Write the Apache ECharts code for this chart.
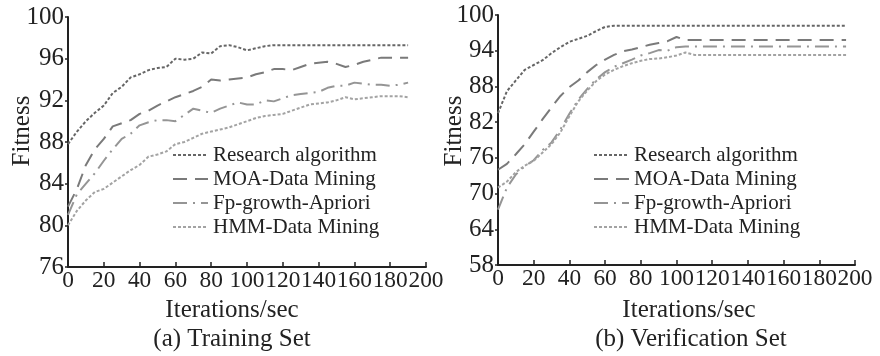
<!DOCTYPE html>
<html><head><meta charset="utf-8">
<script src="https://cdn.jsdelivr.net/npm/echarts@6/dist/echarts.min.js"></script>
<style>html,body{margin:0;padding:0;background:#fff}#c{width:880px;height:356px}</style>
</head><body><div id="c"></div>
<script>
// ---- Data ----
const seriesNames = ['Research algorithm', 'MOA-Data Mining', 'Fp-growth-Apriori', 'HMM-Data Mining'];

// (a) Training Set
const iterTrain = [0,5,10,15,20,25,30,35,40,45,50,55,60,65,70,75,80,85,90,95,100,105,110,115,120,125,130,135,140,145,150,155,160,165,170,175,180,185,190];
const trainResearch = [87.8,89.0,90.0,90.8,91.5,92.7,93.3,94.2,94.5,94.9,95.1,95.2,96.0,95.9,96.0,96.6,96.5,97.2,97.3,97.1,96.8,97.0,97.2,97.3,97.3,97.3,97.3,97.3,97.3,97.3,97.3,97.3,97.3,97.3,97.3,97.3,97.3,97.3,97.3];
const trainMOA = [81.8,83.5,85.8,87.3,88.3,89.5,89.8,90.1,90.7,91.0,91.5,91.9,92.3,92.6,92.9,93.3,94.0,93.9,94.0,94.1,94.2,94.5,94.7,95.0,95.0,94.9,95.2,95.5,95.6,95.7,95.5,95.2,95.4,95.7,95.9,96.1,96.1,96.1,96.1];
const trainFp = [81.0,83.0,84.0,85.0,86.2,87.3,88.3,88.8,89.6,89.9,90.1,90.1,90.0,90.6,91.2,91.0,90.8,91.2,91.5,91.8,91.6,91.6,92.0,91.9,92.2,92.5,92.6,92.7,92.8,93.2,93.4,93.4,93.7,93.6,93.5,93.5,93.4,93.5,93.7];
const trainHMM = [80.0,81.4,82.4,83.2,83.5,84.1,84.7,85.3,85.8,86.6,86.8,87.1,87.8,88.0,88.4,88.8,89.0,89.2,89.4,89.7,90.0,90.3,90.5,90.6,90.7,91.0,91.3,91.6,91.7,91.8,92.0,92.3,92.1,92.2,92.3,92.4,92.4,92.4,92.3];

// (b) Verification Set
const iterVerify = [0,5,10,15,20,25,30,35,40,45,50,55,60,65,70,75,80,85,90,95,100,105,110,115,120,125,130,135,140,145,150,155,160,165,170,175,180,185,190,195];
const verResearch = [83.5,87.2,89.0,90.8,91.6,92.4,93.6,94.6,95.5,96.0,96.5,97.3,98.0,98.2,98.2,98.2,98.2,98.2,98.2,98.2,98.2,98.2,98.2,98.2,98.2,98.2,98.2,98.2,98.2,98.2,98.2,98.2,98.2,98.2,98.2,98.2,98.2,98.2,98.2,98.2];
const verMOA = [74.0,75.0,76.6,78.3,80.4,82.5,84.5,86.4,87.9,89.0,90.4,91.6,92.5,93.3,93.9,94.2,94.6,95.0,95.3,95.6,96.3,95.8,95.8,95.8,95.8,95.8,95.8,95.8,95.8,95.8,95.8,95.8,95.8,95.8,95.8,95.8,95.8,95.8,95.8,95.8];
const verFp = [67.3,71.0,73.2,74.6,75.6,77.3,78.6,80.8,83.4,85.8,87.6,89.2,90.4,91.3,91.9,92.5,93.2,93.6,94.1,94.0,94.6,94.7,94.7,94.7,94.7,94.7,94.7,94.7,94.7,94.7,94.7,94.7,94.7,94.7,94.7,94.7,94.7,94.7,94.7,94.7];
const verHMM = [71.0,72.0,73.6,74.7,75.5,76.9,78.3,80.3,83.0,85.5,87.3,88.9,90.0,90.8,91.4,91.9,92.3,92.6,92.7,92.9,93.2,93.7,93.3,93.3,93.3,93.3,93.3,93.3,93.3,93.3,93.3,93.3,93.3,93.3,93.3,93.3,93.3,93.3,93.3,93.3];

const yTicksTrain = [76,80,84,88,92,96,100];
const yTicksVerify = [58,64,70,76,82,88,94,100];
const xTicks = [0,20,40,60,80,100,120,140,160,180,200];
const captions = ['(a) Training Set', '(b) Verification Set'];
const xName = 'Iterations/sec';
const yName = 'Fitness';

// ---- Styles ----
const FONT = '"Liberation Serif", "Times New Roman", serif';
const styles = [
  {color:'#666666', type:[3,2], width:2},
  {color:'#7a7a7a', type:[14,8], width:2},
  {color:'#959595', type:[14,6,2,6], width:2},
  {color:'#a3a3a3', type:[3,2], width:2}
];

function pairs(xs, ys){ return xs.map((x,i)=>[x, ys[i]]); }

function xAxisCfg(gi){
  return {
    gridIndex: gi, type:'value', min:0, max:200, interval:20,
    axisLine:{show:true, onZero:false, lineStyle:{color:'#222', width:2}},
    axisTick:{show:true, inside:true, length:5, customValues:xTicks, lineStyle:{color:'#222', width:1.5}},
    axisLabel:{color:'#222', fontFamily:FONT, fontSize:23.4, margin:2, customValues:xTicks,
               showMinLabel:true, showMaxLabel:true, hideOverlap:false},
    splitLine:{show:false}
  };
}
function yAxisCfg(gi, min, ticks){
  return {
    gridIndex: gi, type:'value', min:min, max:100,
    axisLine:{show:true, onZero:false, lineStyle:{color:'#222', width:2}},
    axisTick:{show:true, inside:false, length:3, customValues:ticks, lineStyle:{color:'#222', width:1.5}},
    axisLabel:{color:'#222', fontFamily:FONT, fontSize:25, margin:4, customValues:ticks},
    splitLine:{show:false}
  };
}

const dataSets = [
  [trainResearch, trainMOA, trainFp, trainHMM],
  [verResearch, verMOA, verFp, verHMM]
];
const iters = [iterTrain, iterVerify];

const series = [];
for (let g=0; g<2; g++){
  for (let s=0; s<4; s++){
    series.push({
      name: seriesNames[s], type:'line', xAxisIndex:g, yAxisIndex:g,
      data: pairs(iters[g], dataSets[g][s]),
      symbol:'none', smooth:false, silent:true, animation:false,
      lineStyle:{color:styles[s].color, type:styles[s].type, width:styles[s].width},
      itemStyle:{color:styles[s].color}
    });
  }
}

function legendCfg(left){
  return {
    orient:'vertical', left:left, top:144, padding:0, itemWidth:35, itemHeight:14, itemGap:2,
    data: seriesNames, selectedMode:false,
    itemStyle:{opacity:0},
    textStyle:{fontFamily:FONT, fontSize:21, color:'#222', lineHeight:22}
  };
}

function txt(x, y, s, rot, size){
  return {type:'text', x:x, y:y, rotation: rot||0,
    style:{text:s, fontFamily:FONT, fontSize:size||24, fill:'#222', align:'center', verticalAlign:'middle'}};
}

const chart = echarts.init(document.getElementById('c'), null, {renderer:'canvas'});
chart.setOption({
  animation:false,
  backgroundColor:'#fff',
  grid:[
    {left:68, top:17, width:358, height:250},
    {left:498, top:15, width:357, height:250}
  ],
  xAxis:[xAxisCfg(0), xAxisCfg(1)],
  yAxis:[yAxisCfg(0, 76, yTicksTrain), yAxisCfg(1, 58, yTicksVerify)],
  legend:[legendCfg(172), legendCfg(593)],
  series: series,
  graphic:[
    txt(22, 131, yName, Math.PI/2, 25),
    txt(454, 131, yName, Math.PI/2, 25),
    txt(232, 310, xName, 0, 25),
    txt(689, 310, xName, 0, 25),
    txt(232, 339, captions[0], 0, 25),
    txt(691, 339, captions[1], 0, 25)
  ]
});
</script></body></html>
